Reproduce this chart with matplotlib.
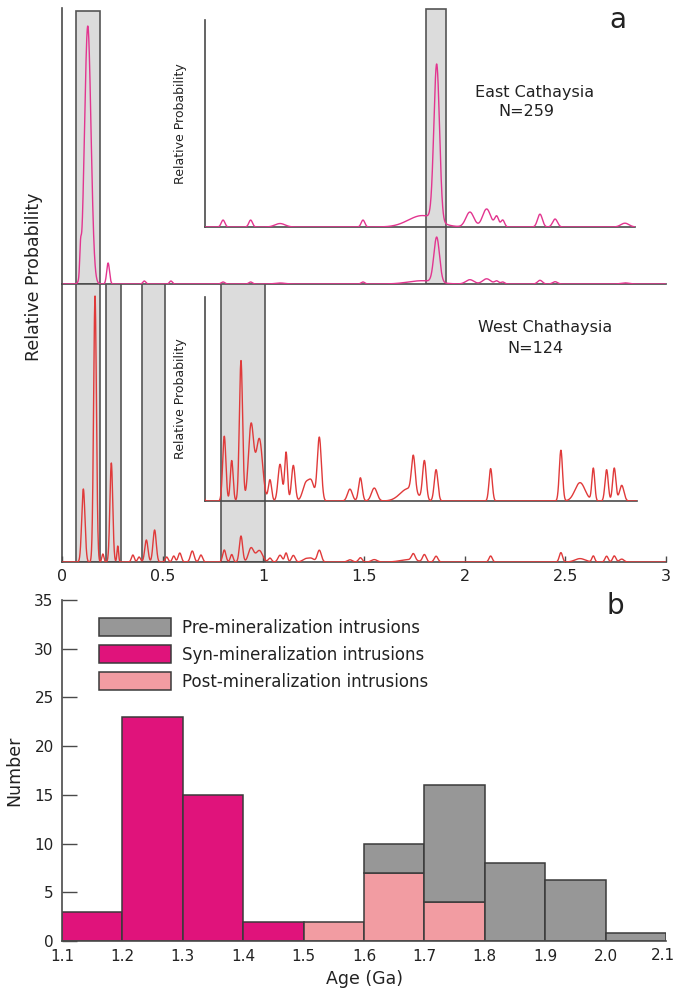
import numpy as np
import matplotlib
matplotlib.use("Agg")
import matplotlib.pyplot as plt
from matplotlib.patches import Rectangle, Patch
import matplotlib.transforms as mtransforms

plt.rcParams['font.family'] = ['DejaVu Sans']

# ---------------- data (panel a: probability density peaks) --------
east_age    = [0.092, 0.128, 0.229, 0.409, 0.541, 0.800, 0.937, 1.083, 1.495, 1.790, 1.861,
               2.026, 2.109, 2.159, 2.189, 2.374, 2.449, 2.796]
east_height = [24, 258, 21, 3, 3, 2.0, 2.0, 1.0, 2.0, 3.3, 45,
               4.3, 5.2, 3.0, 2.0, 3.7, 2.3, 1.1]
east_width  = [0.004, 0.016, 0.007, 0.007, 0.007, 0.009, 0.009, 0.025, 0.009, 0.07, 0.014,
               0.02, 0.02, 0.01, 0.009, 0.012, 0.012, 0.02]

west_age    = [0.106, 0.164, 0.203, 0.245, 0.277, 0.352, 0.383, 0.419, 0.460, 0.520, 0.555,
               0.585, 0.647, 0.690, 0.806, 0.843, 0.889, 0.939, 0.980, 1.033, 1.083, 1.113,
               1.149, 1.212, 1.240, 1.278, 1.430, 1.482, 1.551, 1.720, 1.745, 1.800, 1.858,
               2.129, 2.478, 2.573, 2.639, 2.705, 2.743, 2.780]
west_height = [73, 266, 8, 99, 16, 7, 5, 22, 32, 5, 6,
               9, 11, 7, 12, 7.5, 26, 14, 11.5, 3.9, 6.8, 9.0,
               6.6, 3.3, 3.1, 11.8, 2.2, 4.3, 2.4, 2.3, 6.6, 7.2, 5.8,
               6.0, 9.4, 3.4, 6.0, 5.8, 6.1, 2.9]
west_width  = [0.008, 0.007, 0.005, 0.007, 0.004, 0.007, 0.007, 0.008, 0.008, 0.007, 0.007,
               0.008, 0.009, 0.008, 0.008, 0.007, 0.008, 0.013, 0.016, 0.008, 0.010, 0.007,
               0.009, 0.016, 0.013, 0.010, 0.012, 0.009, 0.014, 0.040, 0.009, 0.009, 0.009,
               0.008, 0.008, 0.025, 0.007, 0.008, 0.008, 0.011]

east_boxes = [(0.0695, 0.190), (1.806, 1.909)]
west_boxes = [(0.0695, 0.190), (0.2185, 0.2915), (0.396, 0.513), (0.788, 1.008)]

east_label = ["East Cathaysia", "N=259"]
west_label = ["West Chathaysia", "N=124"]
age_ticks_a = [0, 0.5, 1, 1.5, 2, 2.5, 3]
age_ticklabels_a = ["0", "0.5", "1", "1.5", "2", "2.5", "3"]

# ---------------- data (panel b: histogram) ----------------
bin_left  = [1.1, 1.2, 1.3, 1.4, 1.5, 1.6, 1.7, 1.8, 1.9, 2.0]
syn_count = [3, 23, 15, 2, 0, 0, 0, 0, 0, 0]
post_count = [0, 0, 0, 0, 2, 7, 4, 0, 0, 0]
pre_count = [0, 0, 0, 0, 0, 3, 12, 8, 6.3, 0.8]
hist_xticks = [1.1, 1.2, 1.3, 1.4, 1.5, 1.6, 1.7, 1.8, 1.9, 2.0, 2.1]
legend_labels = ["Pre-mineralization intrusions", "Syn-mineralization intrusions",
                 "Post-mineralization intrusions"]

# ---------------- styling ----------------
W, H = 676, 994
fig = plt.figure(figsize=(W / 100, H / 100), dpi=100)
spine_c = "#4a4a4a"
east_c = "#e2358f"
west_c = "#e03a3a"
box_fc = "#dcdcdc"
box_ec = "#555555"
pre_c = "#979797"
syn_c = "#e0137b"
post_c = "#f29ca2"
txt_c = "#222222"


def fax(l, t, r, b):
    return fig.add_axes([l / W, 1 - b / H, (r - l) / W, (b - t) / H])


def pdp(x, ages, hs, ws):
    y = np.zeros_like(x)
    for a, h, w in zip(ages, hs, ws):
        y += h * np.exp(-0.5 * ((x - a) / w) ** 2)
    return y


x = np.linspace(0, 3, 6000)
ye = pdp(x, east_age, east_height, east_width)
yw = pdp(x, west_age, west_height, west_width)

scale_px = 604 / 3.0
x0_px = 62


def px2age(p):
    return (p - x0_px) / scale_px


def style(ax):
    for s in ["top", "right"]:
        ax.spines[s].set_visible(False)
    for s in ["left", "bottom"]:
        ax.spines[s].set_color(spine_c)
        ax.spines[s].set_linewidth(1.2)
    ax.patch.set_visible(False)


# main east
axE = fax(62, 8, 666, 284)
axE.set_xlim(0, 3)
axE.set_ylim(0, 276)
style(axE)
axE.set_xticks([])
axE.set_yticks([])
tr = mtransforms.blended_transform_factory(axE.transData, axE.transAxes)
for (a0, a1), top in zip(east_boxes, [0.989, 0.996]):
    axE.add_patch(Rectangle((a0, 0), a1 - a0, top, transform=tr, facecolor=box_fc,
                            edgecolor=box_ec, lw=1.2, zorder=1))
axE.plot(x, ye, color=east_c, lw=1.0, zorder=3)

# main west
axW = fax(62, 284, 666, 562)
axW.set_xlim(0, 3)
axW.set_ylim(0, 278)
style(axW)
axW.set_yticks([])
axW.set_xticks(age_ticks_a)
axW.set_xticklabels(age_ticklabels_a, fontsize=11.5, color=txt_c)
axW.tick_params(axis='x', direction='in', length=4, width=1, color=spine_c, pad=5)
trw = mtransforms.blended_transform_factory(axW.transData, axW.transAxes)
for (a0, a1) in west_boxes:
    axW.add_patch(Rectangle((a0, 0), a1 - a0, 1, transform=trw, facecolor=box_fc,
                            edgecolor=box_ec, lw=1.2, zorder=1))
axW.plot(x, yw, color=west_c, lw=1.0, zorder=3)


# insets
def inset(l, t, r, b, xs, ys, col, ratio):
    ax = fax(l, t, r, b)
    ax.set_xlim(px2age(l), px2age(r))
    ax.set_ylim(0, (b - t) / ratio)
    style(ax)
    ax.set_xticks([])
    ax.set_yticks([])
    ax.plot(xs, ys, color=col, lw=1.0, zorder=3)
    ax.set_ylabel("Relative Probability", fontsize=9, labelpad=13, color=txt_c)
    return ax


inset(205, 20, 635, 227, x, ye, east_c, 3.47)
inset(205, 297, 637, 501, x, yw, west_c, 5.4)

fig.text(34 / W, 1 - 277 / H, "Relative Probability", rotation=90, fontsize=12.5,
         ha="center", va="center", color=txt_c)
fig.text(475 / W, 1 - 93 / H, east_label[0], fontsize=11.5, ha="left", va="center", color=txt_c)
fig.text(498 / W, 1 - 112 / H, east_label[1], fontsize=11.5, ha="left", va="center", color=txt_c)
fig.text(478 / W, 1 - 328 / H, west_label[0], fontsize=11.5, ha="left", va="center", color=txt_c)
fig.text(507 / W, 1 - 348 / H, west_label[1], fontsize=11.5, ha="left", va="center", color=txt_c)
fig.text(618 / W, 1 - 20 / H, "a", fontsize=20, ha="center", va="center", color=txt_c)
fig.text(615 / W, 1 - 606 / H, "b", fontsize=20, ha="center", va="center", color=txt_c)

# ---------------- panel b ----------------
axB = fax(62, 600, 666, 941)
axB.set_xlim(1.1, 2.1)
axB.set_ylim(0, 35)
syn = np.array(syn_count, float)
post = np.array(post_count, float)
pre = np.array(pre_count, float)
kw = dict(width=0.1, align="edge", edgecolor="#3a3a3a", linewidth=1.1)
axB.bar(bin_left, syn, color=syn_c, **kw)
axB.bar(bin_left, post, bottom=syn, color=post_c, **kw)
axB.bar(bin_left, pre, bottom=syn + post, color=pre_c, **kw)
for cont in axB.containers:
    for p in cont.patches:
        if p.get_height() == 0:
            p.set_visible(False)
style(axB)
axB.set_yticks(range(0, 36, 5))
axB.tick_params(axis='y', direction='in', length=11, width=1, color=spine_c,
                labelsize=11, pad=6, labelcolor=txt_c)
axB.set_xticks(hist_xticks)
axB.set_xticklabels([f"{v:.1f}" for v in hist_xticks[:-1]] + [""])
axB.tick_params(axis='x', length=0, labelsize=11, pad=6, labelcolor=txt_c)
# last tick label kept inside the canvas
fig.text(675 / W, 1 - 956 / H, f"{hist_xticks[-1]:.1f}", fontsize=11, ha="right",
         va="center", color=txt_c)
axB.set_xlabel("Age (Ga)", fontsize=12.5, labelpad=4, color=txt_c)
axB.set_ylabel("Number", fontsize=12.5, labelpad=8, color=txt_c)
handles = [Patch(facecolor=pre_c, edgecolor="#3a3a3a", lw=1.1),
           Patch(facecolor=syn_c, edgecolor="#3a3a3a", lw=1.1),
           Patch(facecolor=post_c, edgecolor="#3a3a3a", lw=1.1)]
leg = axB.legend(handles, legend_labels, loc="upper left",
                 bbox_to_anchor=((99 - 62) / 604, (941 - 618) / 341),
                 frameon=False, fontsize=12, handlelength=4.3, handleheight=1.3,
                 handletextpad=0.7, labelspacing=0.5, borderpad=0, borderaxespad=0)
for t in leg.get_texts():
    t.set_color(txt_c)

fig.savefig("out.png", dpi=100)
